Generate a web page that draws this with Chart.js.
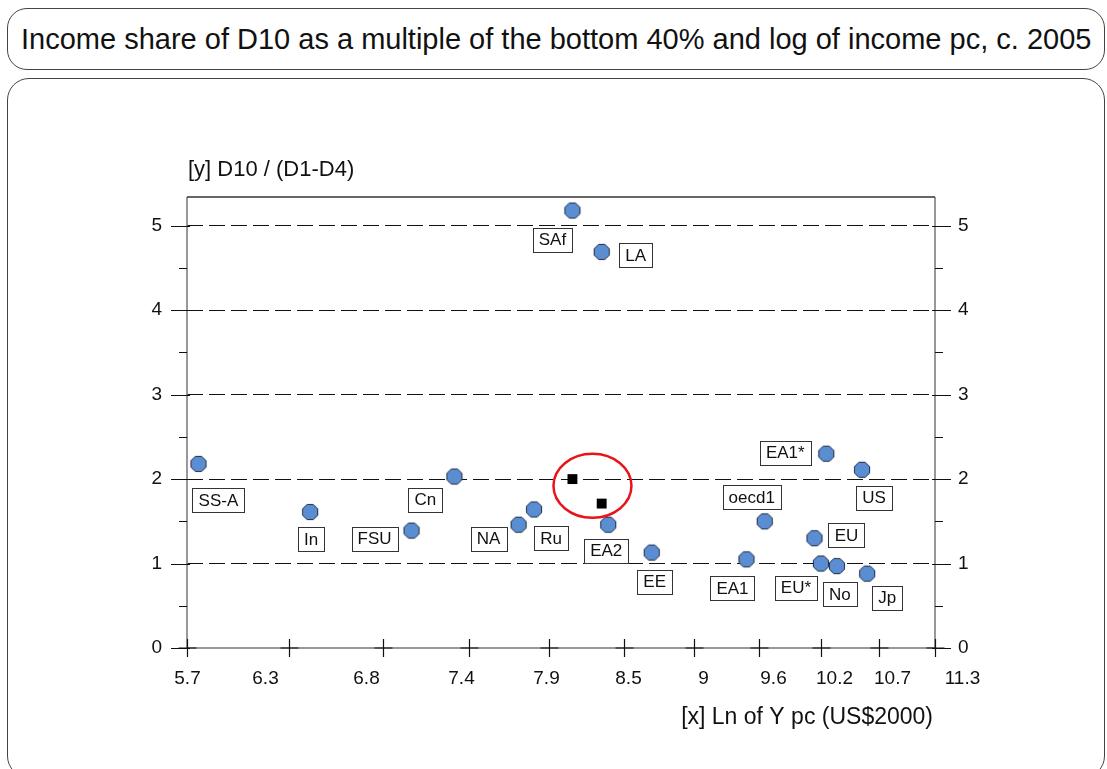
<!DOCTYPE html>
<html>
<head>
<meta charset="utf-8">
<title>Income share of D10 vs log income pc</title>
<script src="https://cdn.jsdelivr.net/npm/chart.js@4.4.1/dist/chart.umd.min.js"></script>
<style>
  html, body { margin: 0; padding: 0; background: #fff; }
  body { width: 1107px; height: 769px; position: relative; overflow: hidden; font-family: "Liberation Sans", Arial, sans-serif; }
  .title-box { position: absolute; left: 7px; top: 8px; width: 1098px; height: 62px; border: 1px solid #444; border-radius: 20px; box-sizing: border-box; }
  .title-box span { position: absolute; left: 13px; top: 50%; transform: translateY(-50%); font-size: 29px; color: #111; white-space: nowrap; }
  .frame { position: absolute; left: 7px; top: 78px; width: 1098px; height: 700px; border: 1px solid #444; border-radius: 22px; box-sizing: border-box; }
  #chart { position: absolute; left: 0; top: 0; }
</style>
</head>
<body>
<div class="title-box"><span>Income share of D10 as a multiple of the bottom 40% and log of income pc, c. 2005</span></div>
<div class="frame"></div>
<canvas id="chart" width="1107" height="769"></canvas>
<script>
// ---------- DATA ----------
const regions = ['SS-A', 'In', 'FSU', 'Cn', 'NA', 'Ru', 'SAf', 'LA', 'EA2', 'EE', 'EA1', 'oecd1', 'EU', 'EU*', 'EA1*', 'No', 'US', 'Jp'];
const lnIncome = [5.76, 6.38, 7.0, 7.28, 7.72, 7.83, 8.11, 8.33, 8.38, 8.72, 9.51, 9.67, 10.12, 10.18, 10.23, 10.33, 10.57, 10.62];
const d10OverBottom40 = [2.18, 1.61, 1.39, 2.03, 1.46, 1.64, 5.18, 4.69, 1.46, 1.13, 1.05, 1.5, 1.3, 1.0, 2.3, 0.97, 2.11, 0.88];

// the two highlighted (square) points
const markedX = [8.11, 8.33];
const markedY = [2.0, 1.71];

const xTickValues = [5.7, 6.26, 6.82, 7.38, 7.94, 8.5, 9.06, 9.62, 10.18, 10.74, 11.3];
const xTickLabels = ['5.7', '6.3', '6.8', '7.4', '7.9', '8.5', '9', '9.6', '10.2', '10.7', '11.3'];
const yTickValues = [0, 1, 2, 3, 4, 5];

// ---------- STYLE ----------
const FONT = '"Liberation Sans", Arial, sans-serif';
// the source program sets its x labels a little off their ticks (px)
const xLabelShift = [0, -24, -17, -8, -3, 4, 9, 14, 13, 13, 27];
// label box centre relative to its marker, px
const labelOffsets = [
	[20, 36], [1, 27], [-37, 8], [-29, 23], [-30, 14], [17, 29], [-20, 29], [34, 3], [-2, 26],
	[3, 29], [-14, 29], [-13, -24], [32, -3], [-25, 24], [-41, -1], [3, 28], [12, 28], [20, 24],
];
const ringCentre = { x: 8.26, y: 1.92 };

function octagon(r, fill, stroke) {
	const s = Math.ceil(r * 2 + 3);
	const c = document.createElement('canvas');
	c.width = c.height = s;
	const g = c.getContext('2d');
	g.beginPath();
	for (let k = 0; k < 8; k++) {
		const a = Math.PI / 8 + (k * Math.PI) / 4;
		const px = s / 2 + r * Math.cos(a);
		const py = s / 2 + r * Math.sin(a);
		if (k === 0) g.moveTo(px, py);
		else g.lineTo(px, py);
	}
	g.closePath();
	g.fillStyle = fill;
	g.fill();
	g.strokeStyle = stroke;
	g.lineWidth = 1;
	g.stroke();
	return c;
}

// ---------- FRAME, TICK MARKS, AXIS TITLES ----------
const frameTicks = {
	id: 'frameTicks',
	beforeDatasetsDraw(chart) {
		const { ctx, chartArea: a, scales: { x, y } } = chart;
		ctx.save();
		ctx.lineWidth = 1.5;
		ctx.strokeStyle = '#777';
		ctx.beginPath();
		ctx.moveTo(a.left, a.top);
		ctx.lineTo(a.left, a.bottom);
		ctx.lineTo(a.right, a.bottom);
		ctx.lineTo(a.right, a.top);
		ctx.stroke();
		ctx.strokeStyle = '#333';
		ctx.beginPath();
		ctx.moveTo(a.left, a.top);
		ctx.lineTo(a.right, a.top);
		ctx.stroke();

		ctx.strokeStyle = '#111';
		ctx.lineWidth = 1.2;
		// y major + minor ticks, both sides
		yTickValues.forEach((v) => {
			const py = Math.round(y.getPixelForValue(v)) + 0.5;
			ctx.beginPath();
			ctx.moveTo(a.left - 16, py);
			ctx.lineTo(a.left + 3, py);
			ctx.moveTo(a.right - 3, py);
			ctx.lineTo(a.right + 16, py);
			ctx.stroke();
			if (v + 0.5 > y.max) return;
			const pm = Math.round(y.getPixelForValue(v + 0.5)) + 0.5;
			ctx.beginPath();
			ctx.moveTo(a.left - 8, pm);
			ctx.lineTo(a.left, pm);
			ctx.moveTo(a.right, pm);
			ctx.lineTo(a.right + 8, pm);
			ctx.stroke();
		});
		// x ticks as small crosses on the axis, with their labels
		ctx.fillStyle = '#111';
		ctx.font = `19px ${FONT}`;
		ctx.textAlign = 'center';
		ctx.textBaseline = 'middle';
		xTickValues.forEach((v, i) => {
			const px = Math.round(x.getPixelForValue(v)) + 0.5;
			ctx.beginPath();
			ctx.moveTo(px, a.bottom - 9);
			ctx.lineTo(px, a.bottom + 9);
			ctx.moveTo(px - 9, a.bottom);
			ctx.lineTo(px + 9, a.bottom);
			ctx.stroke();
			ctx.fillText(xTickLabels[i], px + xLabelShift[i], a.bottom + 31);
		});

		ctx.font = `22px ${FONT}`;
		ctx.textAlign = 'left';
		ctx.fillText('[y] D10 / (D1-D4)', a.left + 1, a.top - 27);
		ctx.font = `23px ${FONT}`;
		ctx.textAlign = 'right';
		ctx.fillText('[x] Ln of Y pc (US$2000)', a.right - 2, a.bottom + 70);
		ctx.restore();
	},
	afterDatasetsDraw(chart) {
		const { ctx, scales: { x, y } } = chart;
		const meta = chart.getDatasetMeta(0);
		ctx.save();
		// red ring round the two squares
		ctx.strokeStyle = '#e8141b';
		ctx.lineWidth = 2.5;
		ctx.beginPath();
		ctx.ellipse(x.getPixelForValue(ringCentre.x), y.getPixelForValue(ringCentre.y), 39, 32, 0, 0, Math.PI * 2);
		ctx.stroke();

		// boxed labels
		ctx.font = `17px ${FONT}`;
		ctx.textAlign = 'center';
		ctx.textBaseline = 'middle';
		meta.data.forEach((pt, i) => {
			const [dx, dy] = labelOffsets[i];
			const cx = pt.x + dx;
			const cy = pt.y + dy;
			const w = Math.round(ctx.measureText(regions[i]).width + 12);
			const h = 24;
			const bx = Math.round(cx - w / 2) + 0.5;
			const by = Math.round(cy - h / 2) + 0.5;
			ctx.fillStyle = '#fff';
			ctx.fillRect(bx, by, w, h);
			ctx.strokeStyle = '#333';
			ctx.lineWidth = 1;
			ctx.strokeRect(bx, by, w, h);
			ctx.fillStyle = '#111';
			ctx.fillText(regions[i], cx, cy + 1);
		});
		ctx.restore();
	},
};

const ctx = document.getElementById('chart').getContext('2d');

new Chart(ctx, {
	type: 'scatter',
	data: {
		datasets: [
			{
				label: 'regions',
				data: lnIncome.map((v, i) => ({ x: v, y: d10OverBottom40[i] })),
				pointStyle: octagon(8.2, '#5b8dd3', '#1d2b40'),
				pointRadius: 8,
				pointHoverRadius: 8,
			},
			{
				label: 'marked',
				data: markedX.map((v, i) => ({ x: v, y: markedY[i] })),
				pointStyle: 'rect',
				pointRadius: 7,
				pointHoverRadius: 7,
				backgroundColor: '#000',
				borderColor: '#000',
				borderWidth: 0,
			},
		],
	},
	options: {
		responsive: false,
		animation: false,
		layout: { padding: { left: 147, right: 132, top: 197, bottom: 0 } },
		plugins: {
			legend: { display: false },
			tooltip: { enabled: false },
		},
		scales: {
			x: {
				type: 'logarithmic',
				position: 'bottom',
				min: 5.7,
				max: 11.3,
				afterBuildTicks(scale) {
					scale.ticks = xTickValues.map((v) => ({ value: v }));
				},
				afterFit(scale) {
					scale.height = 121;
				},
				grid: { display: false },
				border: { display: false },
				ticks: { display: false, autoSkip: false, maxRotation: 0 },
			},
			y: {
				position: 'left',
				min: 0,
				max: 5.34,
				afterBuildTicks(scale) {
					scale.ticks = yTickValues.map((v) => ({ value: v }));
				},
				afterFit(scale) {
					scale.width = 40;
				},
				grid: {
					drawTicks: false,
					lineWidth: 1,
					color: (c) => (c.tick && c.tick.value === 0 ? 'rgba(0,0,0,0)' : '#111'),
				},
				border: { display: false, dash: [16, 6] },
				ticks: {
					padding: 25,
					color: '#111',
					font: { family: FONT, size: 19 },
				},
			},
			y2: {
				position: 'right',
				min: 0,
				max: 5.34,
				afterBuildTicks(scale) {
					scale.ticks = yTickValues.map((v) => ({ value: v }));
				},
				afterFit(scale) {
					scale.width = 40;
				},
				grid: { display: false, drawTicks: false },
				border: { display: false },
				ticks: {
					padding: 23,
					color: '#111',
					font: { family: FONT, size: 19 },
				},
			},
		},
	},
	plugins: [frameTicks],
});
</script>
</body>
</html>
